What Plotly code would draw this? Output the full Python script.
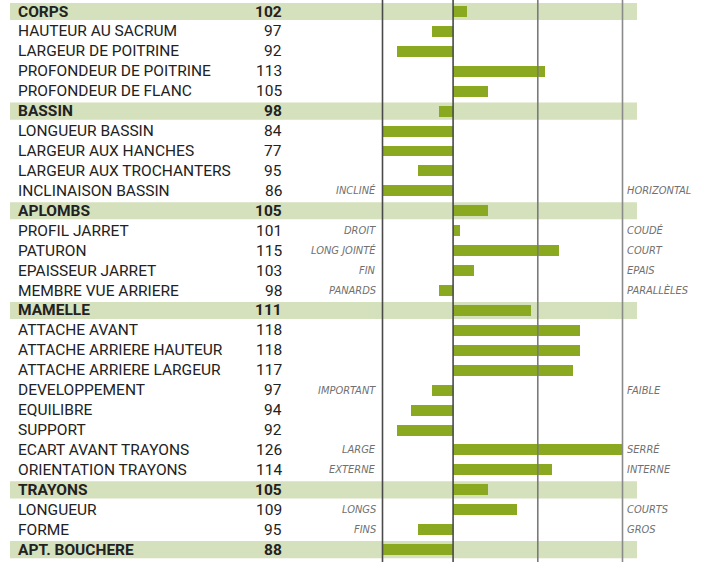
import plotly.graph_objects as go

labels = ["CORPS", "HAUTEUR AU SACRUM", "LARGEUR DE POITRINE", "PROFONDEUR DE POITRINE",
          "PROFONDEUR DE FLANC", "BASSIN", "LONGUEUR BASSIN", "LARGEUR AUX HANCHES",
          "LARGEUR AUX TROCHANTERS", "INCLINAISON BASSIN", "APLOMBS", "PROFIL JARRET",
          "PATURON", "EPAISSEUR JARRET", "MEMBRE VUE ARRIERE", "MAMELLE", "ATTACHE AVANT",
          "ATTACHE ARRIERE HAUTEUR", "ATTACHE ARRIERE LARGEUR", "DEVELOPPEMENT", "EQUILIBRE",
          "SUPPORT", "ECART AVANT TRAYONS", "ORIENTATION TRAYONS", "TRAYONS", "LONGUEUR",
          "FORME", "APT. BOUCHERE"]
values = [102, 97, 92, 113, 105, 98, 84, 77, 95, 86, 105, 101, 115, 103, 98, 111, 118, 118,
          117, 97, 94, 92, 126, 114, 105, 109, 95, 88]
groups = ["CORPS", "BASSIN", "APLOMBS", "MAMELLE", "TRAYONS", "APT. BOUCHERE"]
left_hints = {"INCLINAISON BASSIN": "INCLINÉ", "PROFIL JARRET": "DROIT", "PATURON": "LONG JOINTÉ",
              "EPAISSEUR JARRET": "FIN", "MEMBRE VUE ARRIERE": "PANARDS",
              "DEVELOPPEMENT": "IMPORTANT", "ECART AVANT TRAYONS": "LARGE",
              "ORIENTATION TRAYONS": "EXTERNE", "LONGUEUR": "LONGS", "FORME": "FINS"}
right_hints = {"INCLINAISON BASSIN": "HORIZONTAL", "PROFIL JARRET": "COUDÉ", "PATURON": "COURT",
               "EPAISSEUR JARRET": "EPAIS", "MEMBRE VUE ARRIERE": "PARALLÈLES",
               "DEVELOPPEMENT": "FAIBLE", "ECART AVANT TRAYONS": "SERRÉ",
               "ORIENTATION TRAYONS": "INTERNE", "LONGUEUR": "COURTS", "FORME": "GROS"}
center = 100
scale_min, scale_max = 90, 124
grid_lines = [90, 100, 112, 124]

W, H = 702, 562
BAR = "#8aa920"
BAND = "#d5e0bc"
FONT = "Roboto"
HINT_FONT = "DejaVu Sans Condensed, Roboto"

n = len(labels)
ys = list(range(n))
clipped = [min(max(v, scale_min), scale_max) for v in values]

fig = go.Figure()
fig.add_trace(go.Bar(
    x=[c - center for c in clipped], y=ys, base=center, orientation="h",
    marker=dict(color=BAR, line=dict(width=0)), width=0.55, hoverinfo="skip"))

shapes = []
for i, lab in enumerate(labels):
    if lab in groups:
        shapes.append(dict(type="rect", xref="paper", yref="y", x0=10 / W, x1=637 / W,
                           y0=i - 0.43, y1=i + 0.43, fillcolor=BAND, line=dict(width=0),
                           layer="below"))
line_cols = {90: "#4a4a4a", 100: "#4a4a4a", 112: "#7a7a7a", 124: "#8a8a8a"}
for g in grid_lines:
    shapes.append(dict(type="line", xref="x", yref="paper", x0=g, x1=g, y0=0, y1=1,
                       line=dict(color=line_cols[g], width=1.6), layer="above"))

ann = []
for i, (lab, v) in enumerate(zip(labels, values)):
    bold = lab in groups
    ann.append(dict(x=16 / W, xref="paper", y=i, yref="y", text=f"<b>{lab}</b>" if bold else lab,
                    xanchor="left", yanchor="middle", showarrow=False,
                    font=dict(family=FONT, size=15.5, color="#222222")))
    ann.append(dict(x=284 / W, xref="paper", y=i, yref="y", text=f"<b>{v}</b>" if bold else str(v),
                    xanchor="right", yanchor="middle", showarrow=False,
                    font=dict(family=FONT, size=15.5, color="#222222")))
    if lab in left_hints:
        ann.append(dict(x=378 / W, xref="paper", y=i, yref="y", text=f"<i>{left_hints[lab]}</i>",
                        xanchor="right", yanchor="middle", showarrow=False,
                        font=dict(family=HINT_FONT, size=11, color="#707070")))
    if lab in right_hints:
        ann.append(dict(x=625 / W, xref="paper", y=i, yref="y", text=f"<i>{right_hints[lab]}</i>",
                        xanchor="left", yanchor="middle", showarrow=False,
                        font=dict(family=HINT_FONT, size=11, color="#707070")))

px_per_unit = (622.5 - 382.5) / (scale_max - scale_min)
x0 = scale_min - 382.5 / px_per_unit
x1 = scale_max + (W - 622.5) / px_per_unit
row_h = 19.93
y_top = -11.5 / row_h
y_bot = (H - 11.5) / row_h

fig.update_layout(
    width=W, height=H, margin=dict(l=0, r=0, t=0, b=0),
    paper_bgcolor="white", plot_bgcolor="white", showlegend=False,
    xaxis=dict(range=[x0, x1], visible=False, fixedrange=True),
    yaxis=dict(range=[y_bot, y_top], visible=False, fixedrange=True),
    shapes=shapes, annotations=ann, bargap=0,
)
fig.write_html("out.html", config={"displayModeBar": False},
               post_script="document.body.style.margin='0';document.body.style.overflow='hidden';")
